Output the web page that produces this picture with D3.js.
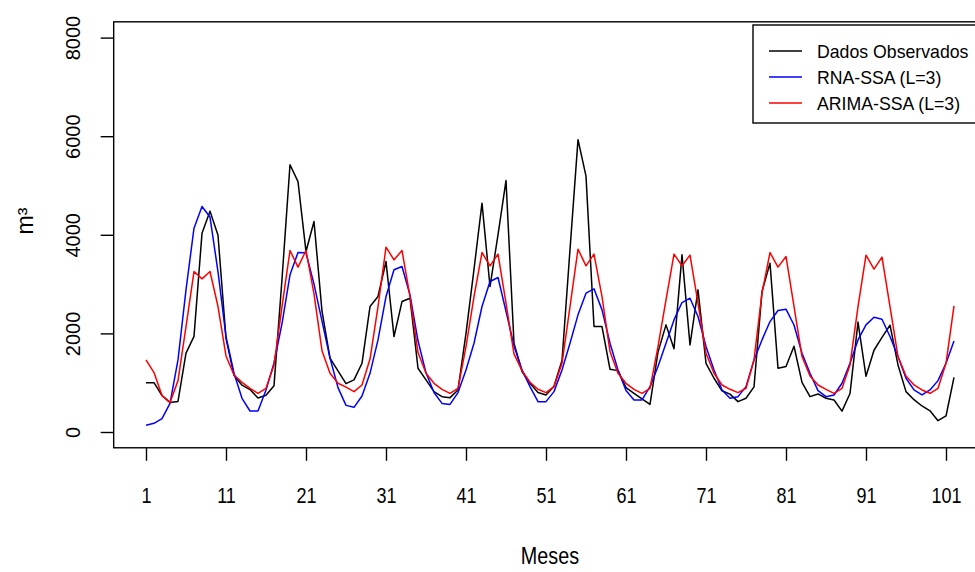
<!DOCTYPE html>
<html>
<head>
<meta charset="utf-8">
<script src="https://cdn.jsdelivr.net/npm/d3@7"></script>
<style>
  body { margin: 0; background: #fff; }
  text { font-family: "Liberation Sans", Arial, sans-serif; fill: #000; }
</style>
</head>
<body>
<div id="chart"></div>
<script>
// Monthly volumes (m³): observed series and the two SSA based forecasts

var observados = [1000, 1000, 740, 600, 620, 1600, 1940, 4030, 4480, 3990,
  1900, 1150, 950, 860, 690, 745, 940, 3100, 5420, 5080,
  3660, 4270, 2450, 1500, 1240, 980, 1056, 1394, 2545, 2748,
  3459, 1936, 2646, 2714, 1293, 1056, 819, 717, 697, 853,
  2000, 3300, 4642, 2951, 4000, 5100, 1800, 1225, 988, 800,
  751, 930, 1450, 3700, 5930, 5190, 2139, 2139, 1273, 1245,
  900, 785, 670, 560, 1620, 2173, 1690, 3594, 1767, 2883,
  1394, 1090, 836, 768, 616, 684, 914, 2849, 3425, 1293,
  1327, 1740, 1005, 717, 772, 684, 650, 423, 780, 2230,
  1130, 1658, 1920, 2166, 1360, 819, 656, 528, 430, 230,
  325, 1110];

var rnaSSA = [135, 176, 271, 582, 1462, 2883, 4135, 4575, 4360, 3250,
  1936, 1191, 684, 426, 426, 853, 1400, 2200, 3188, 3641,
  3634, 3000, 2250, 1500, 900, 540, 500, 730, 1190, 1868,
  2748, 3290, 3357, 2780, 1850, 1200, 800, 580, 560, 800,
  1259, 1800, 2545, 3052, 3134, 2450, 1750, 1259, 920, 616,
  616, 819, 1259, 1800, 2376, 2816, 2904, 2477, 1800, 1259,
  840, 650, 650, 920, 1327, 1800, 2274, 2626, 2714, 2342,
  1733, 1259, 853, 684, 717, 920, 1462, 1868, 2240, 2464,
  2491, 2170, 1597, 1191, 839, 717, 751, 988, 1394, 1868,
  2173, 2328, 2288, 1936, 1530, 1090, 853, 751, 853, 1042,
  1394, 1848];

var arimaSSA = [1462, 1205, 738, 596, 1042, 2139, 3255, 3107, 3255, 2545,
  1543, 1157, 1008, 886, 785, 886, 1360, 2545, 3682, 3344,
  3682, 2800, 1650, 1191, 988, 910, 819, 954, 1480, 2545,
  3749, 3492, 3682, 2748, 1611, 1191, 988, 866, 785, 887,
  1733, 2748, 3641, 3371, 3608, 2613, 1584, 1245, 1009, 866,
  798, 920, 1394, 2545, 3709, 3371, 3608, 2748, 1631, 1191,
  988, 866, 785, 887, 1733, 2680, 3608, 3371, 3587, 2613,
  1597, 1191, 954, 866, 798, 887, 1462, 2816, 3641, 3344,
  3560, 2550, 1530, 1137, 954, 866, 785, 887, 1360, 2545,
  3587, 3303, 3547, 2545, 1530, 1137, 954, 853, 785, 887,
  1394, 2558];

var xTicks = [1, 11, 21, 31, 41, 51, 61, 71, 81, 91, 101];
var yTicks = [0, 2000, 4000, 6000, 8000];

var seriesNames = ['Dados Observados', 'RNA-SSA (L=3)', 'ARIMA-SSA (L=3)'];
var seriesColors = ['#000000', '#0000ff', '#ff0000'];

var width = 975, height = 572;

var svg = d3.select('#chart').append('svg')
  .attr('width', width)
  .attr('height', height);

svg.append('rect').attr('width', width).attr('height', height).attr('fill', '#fff');

// month index for every observation
var meses = observados.map(function(d, i) { return i + 1; });

// R style: data range + 4% on each side
var x = d3.scaleLinear().domain([1, meses.length]).range([146, 954]);
var y = d3.scaleLinear().domain([0, 8000]).range([432, 37.6]);

var xPad = (meses.length - 1) * 0.04;
var boxLeft = x(1 - xPad), boxRight = x(meses.length + xPad);
var boxTop = y(8000 * 1.04), boxBottom = y(-8000 * 0.04);

// lines
var line = d3.line()
  .x(function(d, i) { return x(meses[i]); })
  .y(function(d) { return y(d); });

var plotG = svg.append('g');
[observados, rnaSSA, arimaSSA].forEach(function(serie, k) {
  plotG.append('path')
    .datum(serie)
    .attr('d', line)
    .attr('fill', 'none')
    .attr('stroke', seriesColors[k])
    .attr('stroke-width', 1.5)
    .attr('stroke-linejoin', 'round');
});

// box
svg.append('rect')
  .attr('x', boxLeft)
  .attr('y', boxTop)
  .attr('width', boxRight - boxLeft)
  .attr('height', boxBottom - boxTop)
  .attr('fill', 'none')
  .attr('stroke', '#000')
  .attr('stroke-width', 1.4);

// x axis (labels a bit narrow in the original)
var xAxis = d3.axisBottom(x).tickValues(xTicks).tickSize(13).tickSizeOuter(0)
  .tickFormat(d3.format('d'));
var gx = svg.append('g')
  .attr('transform', 'translate(0,' + boxBottom + ')')
  .call(xAxis);
gx.select('.domain').remove();
gx.selectAll('.tick line').attr('stroke', '#000').attr('stroke-width', 1.4);
gx.selectAll('.tick text')
  .attr('y', 0)
  .attr('dy', 0)
  .attr('transform', 'translate(0,55) scale(0.9,1.1)')
  .style('font-size', '20px')
  .style('font-family', '"Liberation Sans", Arial, sans-serif')
  .attr('fill', '#000');

// y axis, labels turned like R (las = 0)
var yAxis = d3.axisLeft(y).tickValues(yTicks).tickSize(13).tickSizeOuter(0)
  .tickFormat(d3.format('d'));
var gy = svg.append('g')
  .attr('transform', 'translate(' + boxLeft + ',0)')
  .call(yAxis);
gy.select('.domain').remove();
gy.selectAll('.tick line').attr('stroke', '#000').attr('stroke-width', 1.4);
gy.selectAll('.tick text')
  .attr('transform', 'rotate(-90)')
  .attr('x', 0)
  .attr('y', 80 - boxLeft)
  .attr('dy', 0)
  .attr('text-anchor', 'middle')
  .style('font-size', '20px')
  .style('font-family', '"Liberation Sans", Arial, sans-serif')
  .attr('fill', '#000');

// axis titles
svg.append('text')
  .attr('transform', 'translate(' + ((boxLeft + boxRight) / 2) + ',564) scale(0.9,1.1)')
  .attr('text-anchor', 'middle')
  .style('font-size', '22px')
  .text('Meses');

svg.append('text')
  .attr('transform', 'translate(33,221) rotate(-90)')
  .attr('text-anchor', 'middle')
  .style('font-size', '23px')
  .text('m³');

// legend
var legend = svg.append('g');
legend.append('rect')
  .attr('x', 753)
  .attr('y', 25)
  .attr('width', 240)
  .attr('height', 98)
  .attr('fill', '#fff')
  .attr('stroke', '#000')
  .attr('stroke-width', 1.4);

seriesNames.forEach(function(name, k) {
  var ly = 51 + k * 26;
  legend.append('line')
    .attr('x1', 769).attr('x2', 802)
    .attr('y1', ly).attr('y2', ly)
    .attr('stroke', seriesColors[k])
    .attr('stroke-width', 1.5);
  legend.append('text')
    .attr('x', 817)
    .attr('y', ly + 6.5)
    .style('font-size', '17.7px')
    .text(name);
});
</script>
</body>
</html>
